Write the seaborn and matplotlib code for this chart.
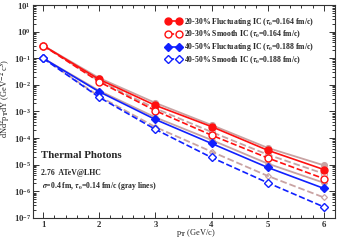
import matplotlib
matplotlib.use("Agg")
import matplotlib.pyplot as plt
import pandas as pd
import seaborn as sns
from matplotlib.lines import Line2D
from matplotlib.ticker import LogLocator, MultipleLocator, NullFormatter

# transverse momentum points (GeV/c)
pt = [1, 2, 3, 4, 5, 6]

# sigma = 0.4 fm curves (coloured)
fl_2030 = [0.30, 0.016, 0.0017, 2.7e-4, 3.5e-5, 6.6e-6]
sm_2030 = [0.30, 0.013, 0.00107, 1.29e-4, 1.8e-5, 3.0e-6]
fl_4050 = [0.10, 0.0055, 0.0005, 6.3e-5, 7.9e-6, 1.29e-6]
sm_4050 = [0.10, 0.0034, 0.000213, 1.87e-5, 2.1e-6, 2.6e-7]

# tau0 = 0.14 fm/c curves (gray lines)
gr_fl_2030 = [0.30, 0.018, 0.0021, 3.1e-4, 4.3e-5, 9.5e-6]
gr_sm_2030 = [0.30, 0.014, 0.0013, 1.7e-4, 2.4e-5, 4.6e-6]
gr_fl_4050 = [0.10, 0.006, 0.0006, 8.5e-5, 1.1e-5, 2.1e-6]
gr_sm_4050 = [0.10, 0.0037, 0.00026, 3.1e-5, 3.8e-6, 5.9e-7]

labels = [
    r"20-30% Fluctuating IC ($\tau_0$=0.164 fm/c)",
    r"20-30% Smooth IC ($\tau_0$=0.164 fm/c)",
    r"40-50% Fluctuating IC ($\tau_0$=0.188 fm/c)",
    r"40-50% Smooth IC ($\tau_0$=0.188 fm/c)",
]

sns.set_style("ticks")
plt.rcParams["font.family"] = ["Liberation Serif", "DejaVu Serif"]
plt.rcParams["mathtext.fontset"] = "stix"
plt.rcParams["font.weight"] = "bold"

fig = plt.figure(figsize=(3.37, 2.40), dpi=100)
ax = fig.add_axes([0.098, 0.092, 0.896, 0.887])

red = "#ff1010"
blue = "#1020ff"
gray = "#c9a3a3"

# gray lines first
gray_series = [
    (gr_fl_2030, "-", "o", gray),
    (gr_sm_2030, "--", "o", "none"),
    (gr_fl_4050, "-", "D", gray),
    (gr_sm_4050, "--", "D", "none"),
]
for vals, ls, mk, fc in gray_series:
    df = pd.DataFrame({"pt": pt, "y": vals})
    sns.lineplot(data=df, x="pt", y="y", ax=ax, color=gray, lw=1.3,
                 linestyle=ls, marker=mk, markersize=4.2 if mk == "o" else 3.0,
                 markerfacecolor=fc, markeredgecolor=gray, markeredgewidth=0.9)

series = [
    (fl_2030, "-", "o", red, red, 5.0),
    (sm_2030, "--", "o", red, "white", 5.0),
    (fl_4050, "-", "D", blue, blue, 3.6),
    (sm_4050, "--", "D", blue, "white", 3.6),
]
handles = []
for (vals, ls, mk, col, fc, ms), lab in zip(series, labels):
    df = pd.DataFrame({"pt": pt, "y": vals})
    sns.lineplot(data=df, x="pt", y="y", ax=ax, color=col, lw=1.2,
                 linestyle=ls, marker=mk, markersize=ms,
                 markerfacecolor=fc, markeredgecolor=col, markeredgewidth=1.0)
    handles.append(Line2D([], [], color=col, lw=1.2, linestyle=ls, marker=mk,
                          markersize=ms, markerfacecolor=fc, markeredgecolor=col,
                          markeredgewidth=1.0))

ax.set_yscale("log")
ax.set_xlim(0.82, 6.2)
ax.set_ylim(1e-7, 1e1)

ax.xaxis.set_major_locator(MultipleLocator(1))
ax.xaxis.set_minor_locator(MultipleLocator(0.2))
ax.yaxis.set_major_locator(LogLocator(base=10, numticks=20))
ax.yaxis.set_minor_locator(LogLocator(base=10, subs=range(2, 10), numticks=20))
ax.yaxis.set_minor_formatter(NullFormatter())
ax.tick_params(which="both", direction="in", top=True, right=True, labelsize=6.3,
               width=0.7, colors="#333333", labelcolor="#333333")
ax.tick_params(which="major", length=4, pad=2)
ax.tick_params(axis="y", which="major", pad=1.5)
ax.tick_params(which="minor", length=2)
for s in ax.spines.values():
    s.set_linewidth(0.8)
    s.set_color("#333333")

ax.set_xlabel(r"p$_\mathrm{T}$ (GeV/c)", fontsize=6, labelpad=1)
ax.xaxis.set_label_coords(0.54, -0.045)
ax.set_ylabel(r"dNd$^2$p$_\mathrm{T}$dY (GeV$^{-2}$ c$^3$)", fontsize=6)
ax.yaxis.set_label_coords(-0.068, 0.56)

ax.legend(handles=handles, labels=labels, loc="upper right", frameon=False,
          fontsize=5.6, numpoints=2, handlelength=2.0, handletextpad=0.4,
          labelspacing=0.12, borderaxespad=0.3, bbox_to_anchor=(0.95, 0.975))

ax.text(0.025, 0.295, "Thermal Photons", transform=ax.transAxes, fontsize=7.8,
        fontweight="bold", va="center")
ax.text(0.025, 0.213, "2.76  ATeV@LHC", transform=ax.transAxes, fontsize=5.6,
        fontweight="bold", va="center")
ax.text(0.03, 0.148, r"$\sigma$=0.4 fm, $\tau_0$=0.14 fm/c (gray lines)",
        transform=ax.transAxes, fontsize=5.6, fontweight="bold", va="center")

fig.savefig("out.png", dpi=100)
